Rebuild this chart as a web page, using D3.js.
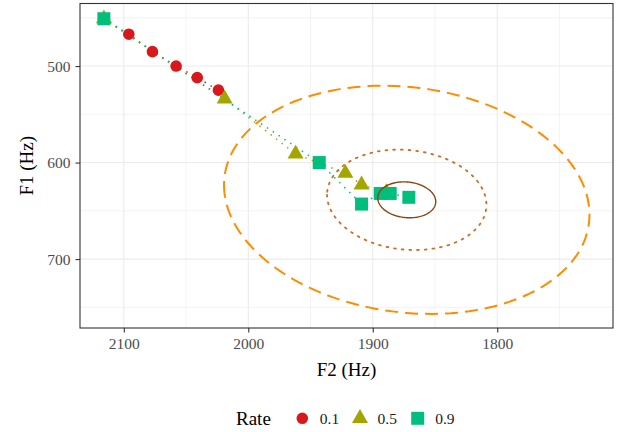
<!DOCTYPE html>
<html>
<head>
<meta charset="utf-8">
<script src="https://cdn.jsdelivr.net/npm/d3@7"></script>
<style>
  body { margin: 0; background: #fff; }
  text { font-family: "Liberation Serif", "DejaVu Serif", serif; }
</style>
</head>
<body>
<div id="vis"></div>
<script>
const width = 627;
const height = 432;

// rate levels
const rates = ['0.1', '0.5', '0.9'];
const colors = ['#D7191C', '#A3A500', '#00BF7D'];

// trajectories (F2, F1 in Hz), one per rate
const f2_01 = [2116, 2096, 2077, 2058, 2041, 2024];
const f1_01 = [451, 467, 485, 500, 512, 525];
const f2_05 = [2116, 2019, 1962, 1922, 1909, 1889];
const f1_05 = [451, 534, 591, 611, 623, 631];
const f2_09 = [2116, 1943, 1909, 1894, 1886, 1871];
const f1_09 = [451, 600, 643, 632, 632, 636];

// ellipses: centre, spread in F2 / F1 and correlation
const ellCenter = [1872.7, 638.6];
const ellSdF2 = [23.3, 64.0, 146.8];
const ellSdF1 = [18.6, 52.0, 118.2];
const ellCorr = [-0.1, -0.1, -0.13];
const ellColor = ['#8B4513', '#D2691E', '#FF8C00'];
const ellDash = [null, '1.8,5.9', '13,7'];
const ellWidth = [1.4, 1.8, 2];

const xTicks = [2100, 2000, 1900, 1800];
const xMinor = [2050, 1950, 1850, 1750];
const yTicks = [500, 600, 700];
const yMinor = [450, 550, 650, 750];

const series = [
  {rate: rates[0], f2: f2_01, f1: f1_01},
  {rate: rates[1], f2: f2_05, f1: f1_05},
  {rate: rates[2], f2: f2_09, f1: f1_09}
];

const pLeft = 80, pRight = 613, pTop = 3.5, pBottom = 328;
const serif = '"Liberation Serif", "DejaVu Serif", serif';

const x = d3.scaleLinear().domain([2135.2, 1707]).range([pLeft, pRight]);
const y = d3.scaleLinear().domain([435.2, 771.4]).range([pTop, pBottom]);
const color = d3.scaleOrdinal().domain(rates).range(colors);
const shape = d3.scaleOrdinal().domain(rates)
  .range([d3.symbolCircle, d3.symbolTriangle, d3.symbolSquare]);
const size = d3.scaleOrdinal().domain(rates).range([106, 111, 169]);

const svg = d3.select('#vis')
  .append('svg')
  .attr('width', width)
  .attr('height', height)
  .attr('font-family', serif);

// grid
const grid = svg.append('g');
grid.selectAll('.xminor').data(xMinor).join('line')
  .attr('x1', d => x(d)).attr('x2', d => x(d))
  .attr('y1', pTop).attr('y2', pBottom)
  .style('stroke', '#EBEBEB').style('stroke-width', 0.6);
grid.selectAll('.yminor').data(yMinor).join('line')
  .attr('y1', d => y(d)).attr('y2', d => y(d))
  .attr('x1', pLeft).attr('x2', pRight)
  .style('stroke', '#EBEBEB').style('stroke-width', 0.6);
grid.selectAll('.xmajor').data(xTicks).join('line')
  .attr('x1', d => x(d)).attr('x2', d => x(d))
  .attr('y1', pTop).attr('y2', pBottom)
  .style('stroke', '#EBEBEB').style('stroke-width', 1.1);
grid.selectAll('.ymajor').data(yTicks).join('line')
  .attr('y1', d => y(d)).attr('y2', d => y(d))
  .attr('x1', pLeft).attr('x2', pRight)
  .style('stroke', '#EBEBEB').style('stroke-width', 1.1);

// axes
const xAxis = svg.append('g')
  .attr('transform', `translate(0,${pBottom})`)
  .call(d3.axisBottom(x).tickValues(xTicks).tickSize(4.5).tickPadding(5).tickFormat(d3.format('d')));
const yAxis = svg.append('g')
  .attr('transform', `translate(${pLeft},0)`)
  .call(d3.axisLeft(y).tickValues(yTicks).tickSize(4.5).tickPadding(5).tickFormat(d3.format('d')));
[xAxis, yAxis].forEach(a => {
  a.attr('font-family', serif).attr('font-size', 15.5);
  a.select('.domain').remove();
  a.selectAll('line').style('stroke', '#333333').style('stroke-width', 1.1);
  a.selectAll('text')
    .style('font-family', serif)
    .style('font-size', '15.5px')
    .style('fill', '#4D4D4D');
});

// trajectories
const line = d3.line().x(d => x(d[0])).y(d => y(d[1]));
const plot = svg.append('g');
plot.selectAll('.traj').data(series).join('path')
  .attr('d', s => line(s.f2.map((v, i) => [v, s.f1[i]])))
  .style('fill', 'none')
  .style('stroke', s => color(s.rate))
  .style('stroke-width', 1.5)
  .style('stroke-dasharray', '1.5,5.5');

series.forEach(s => {
  plot.append('g').selectAll('path')
    .data(s.f2.map((v, i) => [v, s.f1[i]]))
    .join('path')
    .attr('transform', d => `translate(${x(d[0])},${y(d[1])})`)
    .attr('d', d3.symbol().type(shape(s.rate)).size(size(s.rate)))
    .style('fill', color(s.rate));
});

// ellipses
const ellLine = d3.line().x(d => x(d[0])).y(d => y(d[1])).curve(d3.curveLinearClosed);
const ts = d3.range(0, 360, 2).map(a => a * Math.PI / 180);
ellSdF2.forEach((sx, k) => {
  const r = ellCorr[k], sy = ellSdF1[k];
  const pts = ts.map(t => [
    ellCenter[0] + sx * Math.cos(t),
    ellCenter[1] + sy * (r * Math.cos(t) + Math.sqrt(1 - r * r) * Math.sin(t))
  ]);
  svg.append('path')
    .attr('d', ellLine(pts))
    .style('fill', 'none')
    .style('stroke', ellColor[k])
    .style('stroke-width', ellWidth[k])
    .style('stroke-dasharray', ellDash[k])
    .style('stroke-linecap', k === 1 ? 'round' : 'butt');
});

// panel border
svg.append('rect')
  .attr('x', pLeft).attr('y', pTop)
  .attr('width', pRight - pLeft).attr('height', pBottom - pTop)
  .style('fill', 'none')
  .style('stroke', '#333333')
  .style('stroke-width', 1.1);

// titles
svg.append('text')
  .attr('x', (pLeft + pRight) / 2).attr('y', 376)
  .attr('text-anchor', 'middle')
  .style('font-size', '19px')
  .text('F2 (Hz)');
svg.append('text')
  .attr('transform', `translate(33,${(pTop + pBottom) / 2}) rotate(-90)`)
  .attr('text-anchor', 'middle')
  .style('font-size', '19px')
  .text('F1 (Hz)');

// legend
const legend = svg.append('g');
legend.append('text')
  .attr('x', 236).attr('y', 425)
  .style('font-size', '19px')
  .text('Rate');
const keyX = [302.3, 360, 417.7];
rates.forEach((rt, i) => {
  legend.append('path')
    .attr('transform', `translate(${keyX[i]},418.3)`)
    .attr('d', d3.symbol().type(shape(rt)).size(size(rt)))
    .style('fill', color(rt));
  legend.append('text')
    .attr('x', keyX[i] + 17.5).attr('y', 424)
    .style('font-family', serif)
    .style('font-size', '15.5px')
    .style('fill', '#1a1a1a')
    .text(rt);
});
</script>
</body>
</html>
